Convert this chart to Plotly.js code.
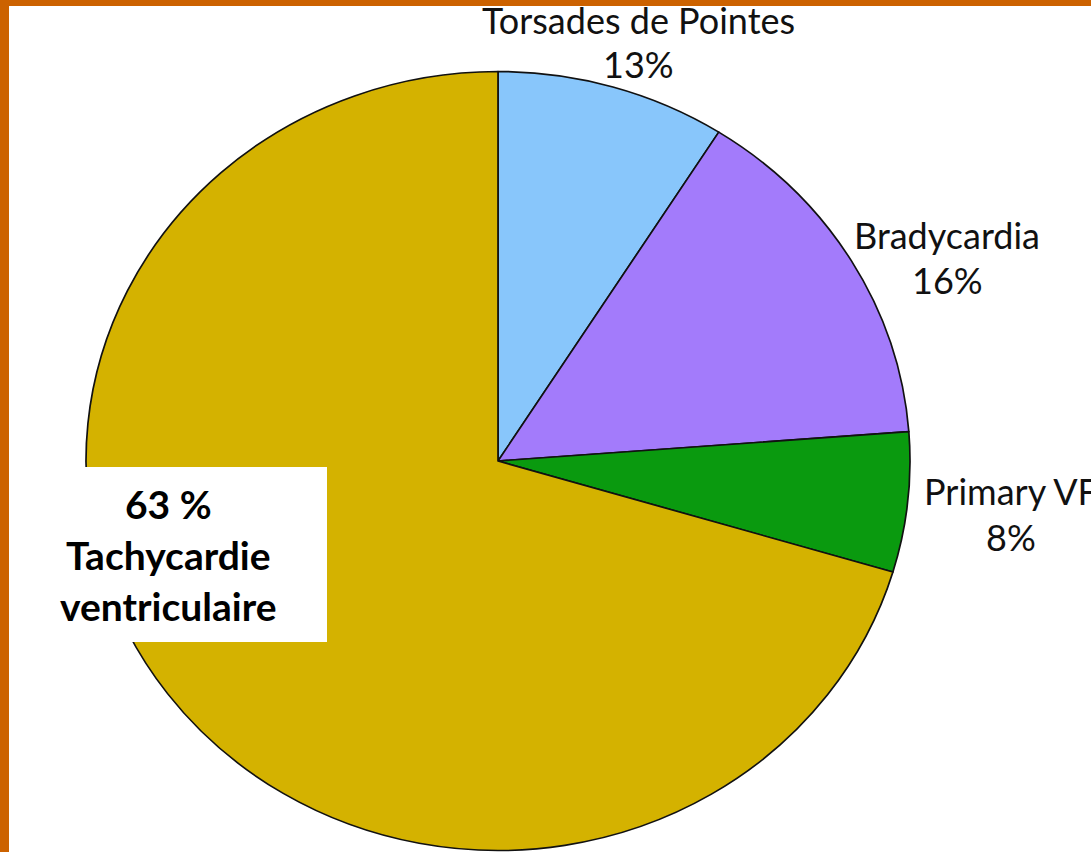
<!DOCTYPE html>
<html>
<head>
<meta charset="utf-8">
<script src="https://cdn.plot.ly/plotly-3.0.1.min.js"></script>
<style>
  html, body { margin: 0; padding: 0; background: #ffffff; overflow: hidden; }
  #chart { width: 1091px; height: 852px; }
</style>
</head>
<body>
<div id="chart"></div>
<script>
// ---- data ----
const categories = ['Torsades de Pointes', 'Bradycardia', 'Primary VF', 'Tachycardie ventriculaire'];
const sliceValues = [9.0, 14.8, 5.8, 70.4];          // visual slice sizes
const percentLabels = ['13%', '16%', '8%', '63 %'];  // printed percentages

// ---- styling ----
const W = 1091, H = 852;
const sliceColors = ['#88C6FB', '#A37BFB', '#0A9A0F', '#D4B200'];
const cx = 498, cy = 461, ry = 389.5, rx = 412;
const px = v => v / W;
const py = v => 1 - v / H;

const pie = {
  type: 'pie',
  labels: categories,
  values: sliceValues,
  sort: false,
  direction: 'clockwise',
  rotation: 0,
  textinfo: 'none',
  hoverinfo: 'none',
  showlegend: false,
  marker: { colors: sliceColors, line: { color: '#111111', width: 1.6 } },
  domain: { x: [px(cx - ry), px(cx + ry)], y: [py(cy + ry), py(cy - ry)] }
};

const regFont = { family: 'Lato, Carlito, "Open Sans", sans-serif', size: 36, color: '#111111' };
const boldFont = { family: 'Lato, Carlito, "Open Sans", sans-serif', size: 39, color: '#000000', weight: 'bold' };

// label positions: [centre x, first line middle y, second line middle y]
const labelPos = [[638, 20, 64], [947, 235, 280], [1011, 491, 537]];
const annotations = [];
labelPos.forEach((p, i) => {
  annotations.push({ xref: 'paper', yref: 'paper', x: px(p[0]), y: py(p[1]), xanchor: 'center', yanchor: 'middle',
    text: categories[i], showarrow: false, font: regFont });
  annotations.push({ xref: 'paper', yref: 'paper', x: px(p[0]), y: py(p[2]), xanchor: 'center', yanchor: 'middle',
    text: percentLabels[i], showarrow: false, font: regFont });
});
const bigLines = [percentLabels[3]].concat(categories[3].split(' '));
const bigY = [504, 555, 606];
bigLines.forEach((t, i) => {
  annotations.push({ xref: 'paper', yref: 'paper', x: px(168), y: py(bigY[i]), xanchor: 'center', yanchor: 'middle',
    text: '<b>' + t + '</b>', showarrow: false, font: boldFont });
});

const shapes = [
  { type: 'rect', xref: 'paper', yref: 'paper', x0: 0, x1: px(327), y0: py(642), y1: py(467),
    fillcolor: '#ffffff', line: { width: 0 }, layer: 'above' },
  { type: 'rect', xref: 'paper', yref: 'paper', x0: 0, x1: px(9), y0: 0, y1: 1,
    fillcolor: '#CC6200', line: { width: 0 }, layer: 'above' },
  { type: 'rect', xref: 'paper', yref: 'paper', x0: 0, x1: 1, y0: py(6), y1: 1,
    fillcolor: '#CC6200', line: { width: 0 }, layer: 'above' }
];

const layout = {
  width: W, height: H,
  margin: { l: 0, r: 0, t: 0, b: 0, pad: 0 },
  paper_bgcolor: '#ffffff',
  plot_bgcolor: '#ffffff',
  showlegend: false,
  annotations: annotations,
  shapes: shapes
};

Plotly.newPlot('chart', [pie], layout, { displayModeBar: false, staticPlot: true }).then(() => {
  // the original pie is slightly wider than tall: stretch horizontally about its centre
  const k = rx / ry;
  const layer = document.querySelector('.pielayer');
  if (layer) layer.setAttribute('transform', 'translate(' + cx + ',0) scale(' + k + ',1) translate(' + (-cx) + ',0)');
});
</script>
</body>
</html>
